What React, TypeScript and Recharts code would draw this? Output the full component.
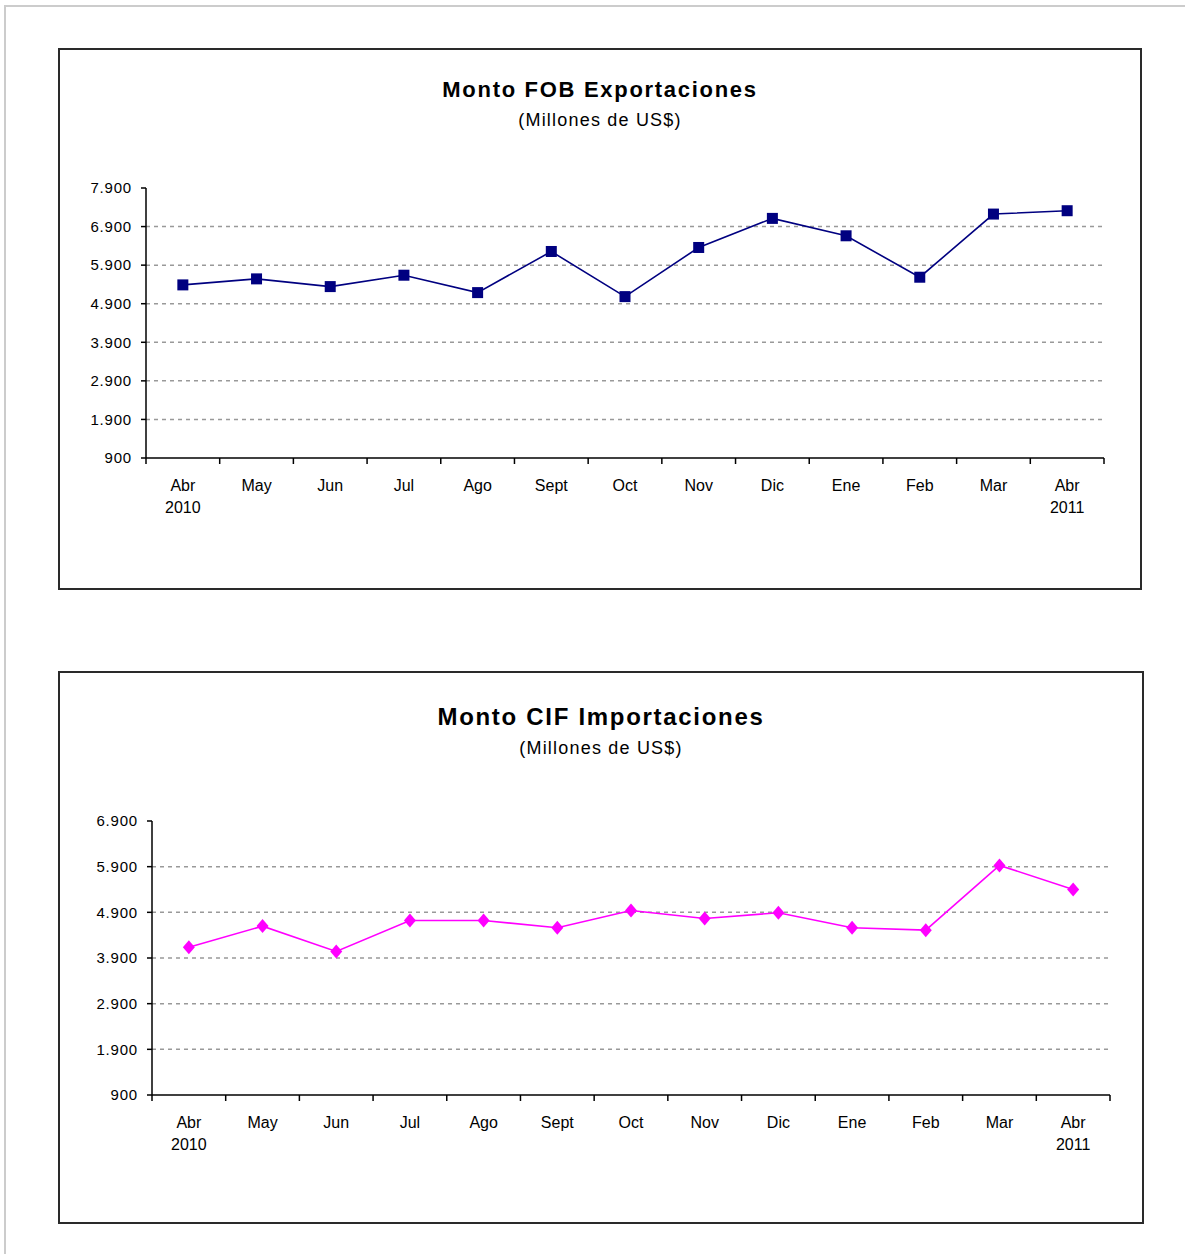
import React from 'react';
import { LineChart, Line, XAxis, YAxis, CartesianGrid } from 'recharts';

const months = ['Abr', 'May', 'Jun', 'Jul', 'Ago', 'Sept', 'Oct', 'Nov', 'Dic', 'Ene', 'Feb', 'Mar', 'Abr'];
const years = ['2010', '', '', '', '', '', '', '', '', '', '', '', '2011'];
const exportsFob = [5388, 5544, 5344, 5639, 5188, 6254, 5084, 6358, 7112, 6661, 5587, 7224, 7311];
const importsCif = [4137, 4598, 4042, 4722, 4722, 4561, 4941, 4766, 4890, 4561, 4510, 5928, 5402];
const fobTicks = [900, 1900, 2900, 3900, 4900, 5900, 6900, 7900];
const cifTicks = [900, 1900, 2900, 3900, 4900, 5900, 6900];

const FONT = '"Liberation Sans", Arial, sans-serif';

const fmt = (v: number) => String(v).replace(/\B(?=(\d{3})+(?!\d))/g, '.');

function buildRows(values: number[]) {
  return values.map((v, i) => ({ i: String(i), value: v }));
}

type Box = { left: number; top: number; width: number; height: number };

interface PanelProps {
  box: Box;
  title: string;
  titleSize: number;
  titleTop: number;
  subtitleTop: number;
  values: number[];
  ticks: number[];
  color: string;
  marker: 'square' | 'diamond';
  yAxisWidth: number;
  margin: { top: number; right: number; bottom: number };
}

function Panel({ box, title, titleSize, titleTop, subtitleTop, values, ticks, color, marker, yAxisWidth, margin }: PanelProps) {
  const rows = buildRows(values);
  const xAxisHeight = 60;
  const plotW = box.width - yAxisWidth - margin.right;
  const bw = plotW / values.length;

  const XTick = (props: any) => {
    const { x, y, index } = props;
    const edge = x - bw / 2;
    return (
      <g>
        <line x1={edge} x2={edge} y1={y} y2={y + 6} stroke="#000" strokeWidth={1.5} />
        {index === values.length - 1 && (
          <line x1={x + bw / 2} x2={x + bw / 2} y1={y} y2={y + 6} stroke="#000" strokeWidth={1.5} />
        )}
        <text x={x} y={y + 33} textAnchor="middle" fontSize={16} fontFamily={FONT} fill="#000">
          {months[index]}
        </text>
        {years[index] && (
          <text x={x} y={y + 55} textAnchor="middle" fontSize={16} fontFamily={FONT} fill="#000">
            {years[index]}
          </text>
        )}
      </g>
    );
  };

  const dot = (p: any) => {
    const { cx, cy, index } = p;
    if (marker === 'square') {
      return <rect key={index} x={cx - 5.5} y={cy - 5.5} width={11} height={11} fill={color} />;
    }
    return (
      <polygon
        key={index}
        points={`${cx},${cy - 7} ${cx + 6},${cy} ${cx},${cy + 7} ${cx - 6},${cy}`}
        fill={color}
      />
    );
  };

  return (
    <>
      <div
        style={{
          position: 'absolute',
          left: box.left,
          top: box.top,
          width: box.width,
          height: box.height,
          boxSizing: 'border-box',
          border: '2px solid #2a2a2a',
          background: '#fff',
        }}
      />
      <div
        style={{
          position: 'absolute',
          left: box.left,
          width: box.width,
          top: titleTop,
          textAlign: 'center',
          fontFamily: FONT,
          fontWeight: 'bold',
          fontSize: titleSize,
          lineHeight: 1,
          letterSpacing: 1.7,
          color: '#000',
        }}
      >
        {title}
      </div>
      <div
        style={{
          position: 'absolute',
          left: box.left,
          width: box.width,
          top: subtitleTop,
          textAlign: 'center',
          fontFamily: FONT,
          fontSize: 18,
          lineHeight: 1,
          letterSpacing: 1.2,
          color: '#000',
        }}
      >
        (Millones de US$)
      </div>
      <div style={{ position: 'absolute', left: box.left, top: box.top }}>
        <LineChart
          width={box.width}
          height={box.height}
          data={rows}
          margin={{ top: margin.top, right: margin.right, bottom: margin.bottom, left: 0 }}
        >
          <CartesianGrid
            vertical={false}
            horizontalValues={ticks.slice(1, -1)}
            stroke="#999999"
            strokeWidth={1.5}
            strokeDasharray="4 4"
          />
          <XAxis
            dataKey="i"
            type="category"
            scale="band"
            interval={0}
            height={xAxisHeight}
            tickLine={false}
            tickSize={0}
            tickMargin={0}
            axisLine={{ stroke: '#000', strokeWidth: 1.5 }}
            tick={<XTick />}
          />
          <YAxis
            type="number"
            domain={[ticks[0], ticks[ticks.length - 1]]}
            ticks={ticks}
            interval={0}
            width={yAxisWidth}
            tickSize={5}
            tickMargin={9}
            tickFormatter={fmt}
            axisLine={{ stroke: '#000', strokeWidth: 1.5 }}
            tickLine={{ stroke: '#000', strokeWidth: 1.5 }}
            tick={{ fontSize: 15, fontFamily: FONT, fill: '#000', letterSpacing: 0.8 }}
          />
          <Line
            type="linear"
            dataKey="value"
            stroke={color}
            strokeWidth={1.6}
            dot={dot}
            activeDot={false}
            isAnimationActive={false}
          />
        </LineChart>
      </div>
    </>
  );
}

export default function App() {
  return (
    <div style={{ position: 'absolute', left: 0, top: 0, width: 1185, height: 1254, background: '#fff' }}>
      <div
        style={{
          position: 'absolute',
          left: 4,
          top: 5,
          width: 1200,
          height: 1270,
          borderTop: '2px solid #cccccc',
          borderLeft: '2px solid #cccccc',
        }}
      />
      <Panel
        box={{ left: 58, top: 48, width: 1084, height: 542 }}
        title="Monto FOB Exportaciones"
        titleSize={22}
        titleTop={79}
        subtitleTop={111}
        values={exportsFob}
        ticks={fobTicks}
        color="#000080"
        marker="square"
        yAxisWidth={88}
        margin={{ top: 140, right: 38, bottom: 72 }}
      />
      <Panel
        box={{ left: 58, top: 671, width: 1086, height: 553 }}
        title="Monto CIF Importaciones"
        titleSize={24}
        titleTop={705}
        subtitleTop={739}
        values={importsCif}
        ticks={cifTicks}
        color="#ff00ff"
        marker="diamond"
        yAxisWidth={94}
        margin={{ top: 150, right: 34, bottom: 69 }}
      />
    </div>
  );
}
